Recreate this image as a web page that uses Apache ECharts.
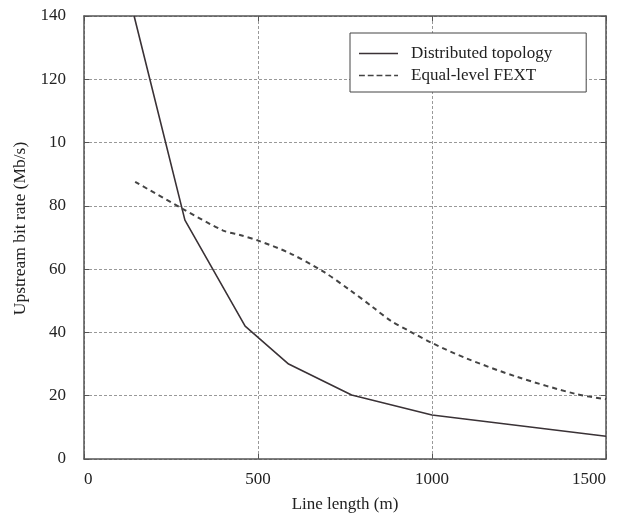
<!DOCTYPE html>
<html>
<head>
<meta charset="utf-8">
<script src="https://cdn.jsdelivr.net/npm/echarts@6/dist/echarts.min.js"></script>
<style>
  html, body { margin: 0; padding: 0; background: #fff; }
  #chart { width: 623px; height: 519px; }
</style>
</head>
<body>
<div id="chart"></div>
<script>
// 数据：线长 (m) 与上行速率 (Mb/s)
const distributedX = [144, 290, 463, 588, 769, 1000, 1500];
const distributedY = [140, 75.5, 42, 30, 20.2, 13.9, 7.2];

const fextX = [147, 281, 400, 448, 501, 592, 688, 764, 831, 880, 937, 1001, 1099, 1243, 1415, 1500];
const fextY = [87.6, 79.2, 72.2, 70.8, 69, 65, 59.2, 53.4, 47.9, 43.8, 40.3, 36.6, 31.8, 26, 20.5, 18.9];

const xTicks = [0, 500, 1000, 1500];
// 纵轴刻度标签（照原图，100 处印成 "10"）
const yTickValues = [0, 20, 40, 60, 80, 100, 120, 140];
const yTickLabels = ['0', '20', '40', '60', '80', '10', '120', '140'];

const seriesNames = ['Distributed topology', 'Equal-level FEXT'];

const zip = (xs, ys) => xs.map((x, i) => [x, ys[i]]);

const myChart = echarts.init(document.getElementById('chart'));
const font = 'Liberation Serif, Times New Roman, serif';
const axisColor = '#555';

const option = {
  backgroundColor: '#fff',
  animation: false,
  textStyle: { fontFamily: font },
  grid: { left: 84, right: 17, top: 16, bottom: 60 },
  legend: {
    orient: 'vertical',
    left: 350,
    top: 33,
    width: 241,
    padding: [12, 34, 8, 9],
    itemGap: 5,
    itemWidth: 39,
    itemHeight: 14,
    backgroundColor: '#fff',
    borderColor: '#444',
    borderWidth: 1,
    borderRadius: 0,
    textStyle: { fontFamily: font, fontSize: 17, color: '#222', padding: [0, 0, 0, 8] },
    data: [
      { name: seriesNames[0], icon: 'path://M0,0 L40,0 L40,1.5 L0,1.5 Z' },
      { name: seriesNames[1], icon: 'path://M0,0 L6,0 L6,1.5 L0,1.5 Z M9,0 L15,0 L15,1.5 L9,1.5 Z M18,0 L24,0 L24,1.5 L18,1.5 Z M27,0 L33,0 L33,1.5 L27,1.5 Z M36,0 L40,0 L40,1.5 L36,1.5 Z' }
    ]
  },
  xAxis: [
    {
      type: 'value',
      min: 0,
      max: 1500,
      interval: 500,
      name: 'Line length (m)',
      nameLocation: 'middle',
      nameGap: 37,
      nameTextStyle: { fontFamily: font, fontSize: 17, color: '#222' },
      axisLine: { show: true, onZero: false, lineStyle: { color: axisColor, width: 1.5 } },
      axisTick: { show: true, inside: true, length: 5, lineStyle: { color: axisColor } },
      axisLabel: {
        fontFamily: font, fontSize: 17, color: '#222', margin: 12,
        alignMinLabel: 'left', alignMaxLabel: 'right',
        formatter: (v) => (xTicks.includes(v) ? String(v) : '')
      },
      splitLine: { show: true, lineStyle: { color: '#999', type: [3, 2], width: 1 } }
    },
    {
      type: 'value',
      position: 'top',
      min: 0,
      max: 1500,
      interval: 500,
      axisLine: { show: true, onZero: false, lineStyle: { color: axisColor, width: 1.5 } },
      axisTick: { show: true, inside: true, length: 5, lineStyle: { color: axisColor } },
      axisLabel: { show: false },
      splitLine: { show: false }
    }
  ],
  yAxis: [
    {
      type: 'value',
      min: 0,
      max: 140,
      interval: 20,
      name: 'Upstream bit rate (Mb/s)',
      nameLocation: 'middle',
      nameGap: 54,
      nameTextStyle: { fontFamily: font, fontSize: 17.5, color: '#222', padding: [0, 0, 0, 18] },
      axisLine: { show: true, onZero: false, lineStyle: { color: axisColor, width: 1.5 } },
      axisTick: { show: true, inside: true, length: 5, lineStyle: { color: axisColor } },
      axisLabel: {
        fontFamily: font, fontSize: 17, color: '#222', margin: 18,
        formatter: (v) => {
          const i = yTickValues.indexOf(v);
          return i >= 0 ? yTickLabels[i] : '';
        }
      },
      splitLine: { show: true, lineStyle: { color: '#999', type: [3, 2], width: 1 } }
    },
    {
      type: 'value',
      position: 'right',
      min: 0,
      max: 140,
      interval: 20,
      axisLine: { show: true, onZero: false, lineStyle: { color: axisColor, width: 1.5 } },
      axisTick: { show: true, inside: true, length: 5, lineStyle: { color: axisColor } },
      axisLabel: { show: false },
      splitLine: { show: false }
    }
  ],
  series: [
    {
      name: seriesNames[0],
      type: 'line',
      data: zip(distributedX, distributedY),
      showSymbol: false,
      symbol: 'none',
      itemStyle: { color: '#3a3236' },
      lineStyle: { color: '#3a3236', width: 1.6, type: 'solid' },
      z: 3
    },
    {
      name: seriesNames[1],
      type: 'line',
      data: zip(fextX, fextY),
      smooth: 0.3,
      showSymbol: false,
      symbol: 'none',
      itemStyle: { color: '#444' },
      lineStyle: { color: '#444', width: 2, type: [5, 4] },
      z: 3
    }
  ]
};

myChart.setOption(option);
</script>
</body>
</html>
